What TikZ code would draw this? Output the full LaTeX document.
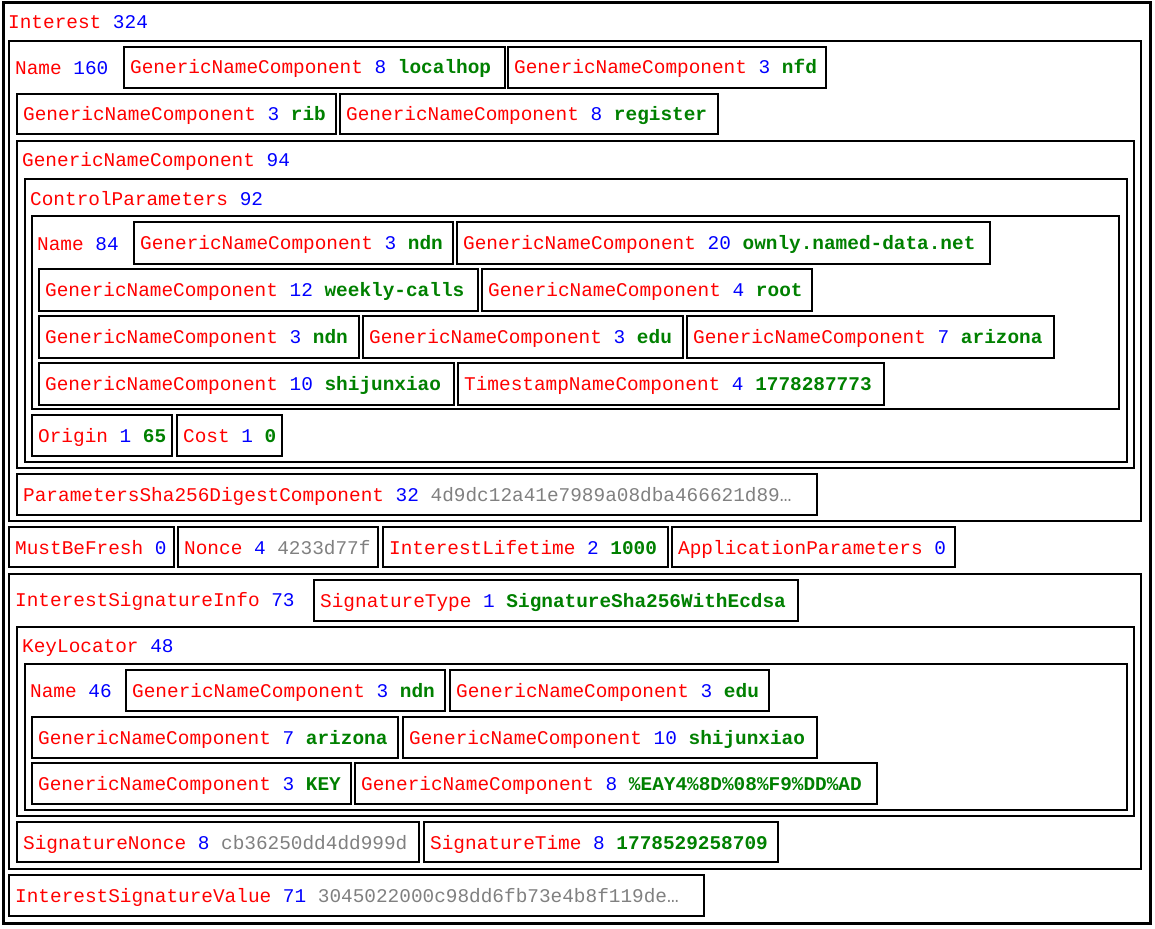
\documentclass[tikz,border=0pt]{standalone}
\usepackage{fontspec}
\setmonofont{Liberation Mono}
\definecolor{tr}{RGB}{255,0,0}
\definecolor{tb}{RGB}{0,0,255}
\definecolor{tg}{RGB}{0,128,0}
\definecolor{tgy}{RGB}{128,128,128}
\newcommand\Rr[1]{\textcolor{tr}{#1}}
\newcommand\Bb[1]{\textcolor{tb}{#1}}
\newcommand\Gg[1]{\textcolor{tg}{\bfseries #1}}
\newcommand\Yy[1]{\textcolor{tgy}{#1}}
\tikzset{box/.style={draw=black,line width=2.5pt},
 lbl/.style={anchor=base west,inner sep=0pt,font=\ttfamily\fontsize{19.4}{20}\selectfont}}
% leaf box: x1 y1 x2 y2 text
\newcommand\LB[5]{\draw[box] (#1,#2) rectangle (#3,#4);
 \node[lbl] at (#1+6,#2+27) {#5};}
% container label: x baseline text
\newcommand\CL[3]{\node[lbl] at (#1,#2) {#3};}
\begin{document}
\begin{tikzpicture}[x=1pt,y=-1pt]
\useasboundingbox (0,0) rectangle (1155,928);
\draw[box,line width=3pt] (3,3) rectangle (1150,923);
\CL{8}{29}{\Rr{Interest} \Bb{324}}
\draw[box] (9,41) rectangle (1141,521);
\CL{15}{75}{\Rr{Name} \Bb{160}}
\LB{124}{47}{505}{88}{\Rr{GenericNameComponent} \Bb{8} \Gg{localhop}}
\LB{508}{47}{826}{88}{\Rr{GenericNameComponent} \Bb{3} \Gg{nfd}}
\LB{17}{94}{336}{134}{\Rr{GenericNameComponent} \Bb{3} \Gg{rib}}
\LB{340}{94}{718}{134}{\Rr{GenericNameComponent} \Bb{8} \Gg{register}}
\draw[box] (17,141) rectangle (1134,468);
\CL{22}{167}{\Rr{GenericNameComponent} \Bb{94}}
\draw[box] (25,179) rectangle (1127,462);
\CL{30}{205}{\Rr{ControlParameters} \Bb{92}}
\draw[box] (32,216) rectangle (1119,409);
\CL{37}{250}{\Rr{Name} \Bb{84}}
\LB{134}{222}{453}{264}{\Rr{GenericNameComponent} \Bb{3} \Gg{ndn}}
\LB{457}{222}{990}{264}{\Rr{GenericNameComponent} \Bb{20} \Gg{ownly.named-data.net}}
\LB{39}{269}{478}{311}{\Rr{GenericNameComponent} \Bb{12} \Gg{weekly-calls}}
\LB{482}{269}{812}{311}{\Rr{GenericNameComponent} \Bb{4} \Gg{root}}
\LB{39}{316}{359}{358}{\Rr{GenericNameComponent} \Bb{3} \Gg{ndn}}
\LB{363}{316}{683}{358}{\Rr{GenericNameComponent} \Bb{3} \Gg{edu}}
\LB{687}{316}{1054}{358}{\Rr{GenericNameComponent} \Bb{7} \Gg{arizona}}
\LB{39}{363}{454}{405}{\Rr{GenericNameComponent} \Bb{10} \Gg{shijunxiao}}
\LB{458}{363}{884}{405}{\Rr{TimestampNameComponent} \Bb{4} \Gg{1778287773}}
\LB{32}{415}{172}{456}{\Rr{Origin} \Bb{1} \Gg{65}}
\LB{177}{415}{282}{456}{\Rr{Cost} \Bb{1} \Gg{0}}
\LB{17}{474}{817}{515}{\Rr{ParametersSha256DigestComponent} \Bb{32} \Yy{4d9dc12a41e7989a08dba466621d89…}}
\LB{9}{527}{174}{567}{\Rr{MustBeFresh} \Bb{0}}
\LB{178}{527}{378}{567}{\Rr{Nonce} \Bb{4} \Yy{4233d77f}}
\LB{383}{527}{668}{567}{\Rr{InterestLifetime} \Bb{2} \Gg{1000}}
\LB{672}{527}{955}{567}{\Rr{ApplicationParameters} \Bb{0}}
\draw[box] (9,574) rectangle (1141,869);
\CL{15}{606}{\Rr{InterestSignatureInfo} \Bb{73}}
\LB{314}{580}{798}{621}{\Rr{SignatureType} \Bb{1} \Gg{SignatureSha256WithEcdsa}}
\draw[box] (17,627) rectangle (1134,816);
\CL{22}{652}{\Rr{KeyLocator} \Bb{48}}
\draw[box] (25,664) rectangle (1127,810);
\CL{30}{697}{\Rr{Name} \Bb{46}}
\LB{126}{670}{445}{711}{\Rr{GenericNameComponent} \Bb{3} \Gg{ndn}}
\LB{450}{670}{769}{711}{\Rr{GenericNameComponent} \Bb{3} \Gg{edu}}
\LB{32}{717}{398}{758}{\Rr{GenericNameComponent} \Bb{7} \Gg{arizona}}
\LB{403}{717}{817}{758}{\Rr{GenericNameComponent} \Bb{10} \Gg{shijunxiao}}
\LB{32}{763}{351}{804}{\Rr{GenericNameComponent} \Bb{3} \Gg{KEY}}
\LB{355}{763}{877}{804}{\Rr{GenericNameComponent} \Bb{8} \Gg{\%EAY4\%8D\%08\%F9\%DD\%AD}}
\LB{17}{822}{419}{862}{\Rr{SignatureNonce} \Bb{8} \Yy{cb36250dd4dd999d}}
\LB{424}{822}{778}{862}{\Rr{SignatureTime} \Bb{8} \Gg{1778529258709}}
\LB{9}{875}{704}{916}{\Rr{InterestSignatureValue} \Bb{71} \Yy{3045022000c98dd6fb73e4b8f119de…}}
\end{tikzpicture}
\end{document}
